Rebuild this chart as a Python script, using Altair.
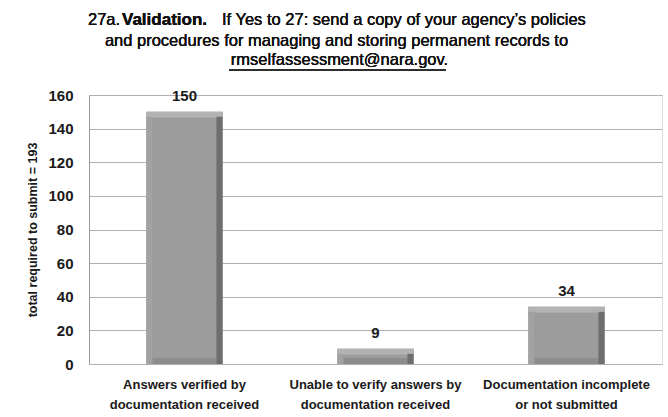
import altair as alt
import pandas as pd

categories = [
    "Answers verified by\ndocumentation received",
    "Unable to verify answers by\ndocumentation received",
    "Documentation incomplete\nor not submitted",
]
values = [150, 9, 34]
y_ticks = [0, 20, 40, 60, 80, 100, 120, 140, 160]

df = pd.DataFrame({"cat": categories, "val": values})

FONT = "Liberation Sans, Arial, sans-serif"
TXT = "#1a1a1a"

x_axis = alt.Axis(labelExpr="split(datum.label, '\\n')", labelAngle=0,
                  labelFont=FONT, labelFontSize=13, labelFontWeight="bold",
                  labelColor=TXT, labelPadding=14, labelLineHeight=20,
                  labelLimit=300, ticks=False, domain=False, grid=False)
x_scale = alt.Scale(paddingInner=0.6, paddingOuter=0.3)
y_axis = alt.Axis(values=y_ticks, tickCount=9, labelFont=FONT, labelFontSize=15,
                  labelFontWeight="bold", labelColor=TXT, labelPadding=16,
                  labelOverlap=False,
                  ticks=False, domain=True, domainColor="#9a9a9a",
                  gridColor="#b0b0b0", gridWidth=1,
                  titleFont=FONT, titleFontSize=12.5, titleFontWeight="bold",
                  titleColor=TXT, titlePadding=8)
y_scale = alt.Scale(domain=[0, 160], nice=False)

xs = alt.X("cat:N", sort=categories, title=None, scale=x_scale, axis=x_axis)
ys = alt.Y("val:Q", scale=y_scale, title="total required to submit = 193", axis=y_axis)

outer = alt.Chart(df).mark_bar(color="#8c8c8c").encode(x=xs, y=ys)
inner = alt.Chart(df).mark_bar(color="#9c9c9c", size=64, yOffset=6, y2Offset=-6).encode(
    x=xs, y=ys, y2=alt.datum(0)
)
top_band = alt.Chart(df).mark_bar(color="#b3b3b3", size=76, yOffset=0, y2Offset=6).encode(
    x=xs, y=ys, y2=alt.Y2("val:Q")
)
left_band = alt.Chart(df).mark_bar(color="#a2a2a2", size=6, xOffset=-35, yOffset=5).encode(
    x=xs, y=ys, y2=alt.datum(0)
)
right_band = alt.Chart(df).mark_bar(color="#6e6e6e", size=6, xOffset=35, yOffset=5).encode(
    x=xs, y=ys, y2=alt.datum(0)
)
labels = alt.Chart(df).mark_text(
    baseline="bottom", dy=-8, font=FONT, fontSize=15, fontWeight="bold", color=TXT
).encode(x=xs, y=ys, text="val:Q")

t_font = 16.5
def ttext(txt, x, y, align="left", weight="normal", size=t_font):
    return alt.Chart(df).mark_text(align=align, baseline="middle", font=FONT, fontSize=size,
                                   fontWeight=weight, color="#111").encode(
        x=alt.value(x), y=alt.value(y), text=alt.value(txt))

title1a = ttext("27a.", -1, -75)
title1b = ttext("Validation.", 33, -75, weight="bold", size=17)
title1c = ttext("If Yes to 27:  send a copy of your agency\u2019s policies", 133, -75)
title2 = ttext("and procedures for managing and storing permanent records to", 247.5, -54, align="center")
title3 = ttext("rmselfassessment@nara.gov.", 250.5, -35, align="center")
underline = alt.Chart(df).mark_rule(color="#111", strokeWidth=1).encode(
    x=alt.value(140), x2=alt.value(357), y=alt.value(-25)
)

chart = alt.layer(outer, inner, top_band, left_band, right_band, labels,
                  title1a, title1b, title1c, title2, title3, underline).properties(
    width=573, height=269,
    autosize=alt.AutoSizeParams(type="none"),
    padding={"left": 89, "top": 95, "right": 6, "bottom": 53},
).configure_view(stroke=None).configure(background="white")

chart.save("out.html", embed_options={"renderer": "svg", "actions": False})
